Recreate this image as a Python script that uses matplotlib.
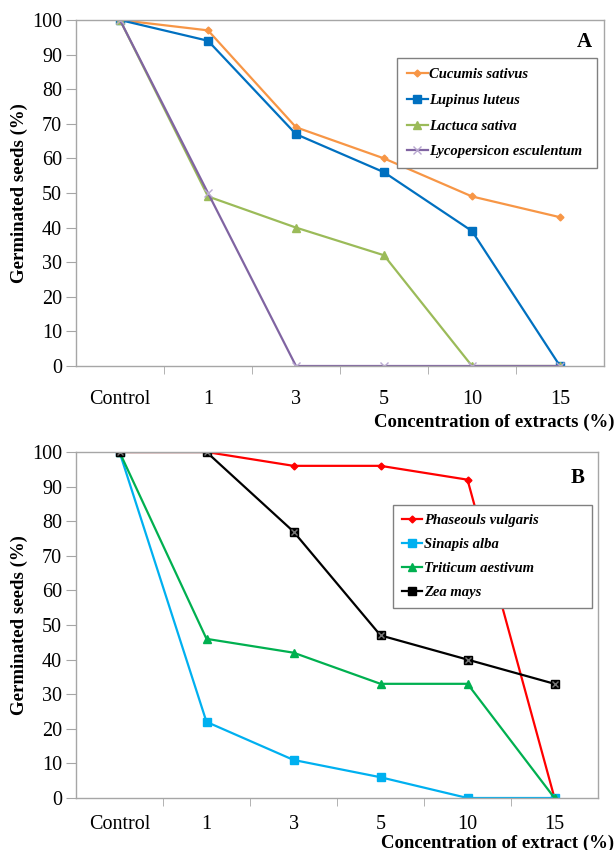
import numpy as np
import matplotlib.pyplot as plt

plt.rcParams['font.family'] = ['Liberation Serif', 'DejaVu Serif']

categories = ["Control", "1", "3", "5", "10", "15"]

# panel A
names_a = ["Cucumis sativus", "Lupinus luteus", "Lactuca sativa", "Lycopersicon esculentum"]
cucumis = [100, 97, 69, 60, 49, 43]
lupinus = [100, 94, 67, 56, 39, 0]
lactuca = [100, 49, 40, 32, 0, 0]
lycopersicon = [100, 50, 0, 0, 0, 0]

# panel B
names_b = ["Phaseouls vulgaris", "Sinapis alba", "Triticum aestivum", "Zea mays"]
phaseolus = [100, 100, 96, 96, 92, 0]
sinapis = [100, 22, 11, 6, 0, 0]
triticum = [100, 46, 42, 33, 33, 0]
zea = [100, 100, 77, 47, 40, 33]

grey = "#A6A6A6"
x = np.arange(len(categories))

fig = plt.figure(figsize=(6.15, 8.5), dpi=100)
axA = fig.add_axes([76/615, 1-366/850, 528/615, 346/850])
axB = fig.add_axes([76/615, 1-798/850, 522/615, 346/850])


def style(ax):
    ax.set_xlim(-0.5, 5.5)
    ax.set_ylim(0, 100)
    ax.set_yticks(range(0, 101, 10))
    ax.set_xticks(x)
    ax.set_xticklabels(categories)
    ax.set_xticks(x[:-1] + 0.5, minor=True)
    ax.tick_params(axis='x', which='major', length=0, labelsize=14.5, pad=17)
    ax.tick_params(axis='x', which='minor', length=6, color=grey, direction='out')
    ax.tick_params(axis='y', length=7, color=grey, labelsize=14.5, pad=3)
    for s in ax.spines.values():
        s.set_color(grey)
        s.set_linewidth(1)
    ax.set_ylabel("Germinated seeds (%)", fontsize=13.5, fontweight='bold', labelpad=3)


def legend(ax, box, pad, spacing):
    leg = ax.legend(loc='upper left', bbox_to_anchor=box, mode='expand', fancybox=False,
                    borderaxespad=0, edgecolor='#808080', framealpha=1, handlelength=1.4,
                    handletextpad=0.1, labelspacing=spacing, borderpad=pad,
                    prop={'style': 'italic', 'weight': 'bold', 'size': 10.5})
    leg.get_frame().set_linewidth(1)
    return leg


lw = 1.6
axA.plot(x, cucumis, color="#F79646", marker='D', ms=3.5, lw=lw, label=names_a[0])
axA.plot(x, lupinus, color="#0070C0", marker='s', ms=6, lw=lw, label=names_a[1])
axA.plot(x, lactuca, color="#9BBB59", marker='^', ms=6, lw=lw, label=names_a[2])
axA.plot(x, lycopersicon, color="#8064A2", marker='x', ms=6, mec="#B9A9D0", lw=lw, label=names_a[3])
style(axA)
axA.text(0.978, 0.965, "A", transform=axA.transAxes, ha='right', va='top', fontsize=15, fontweight='bold')
legend(axA, (321/528, 1-(170-20)/346, 200/528, 112/346), 0.7, 0.85)
fig.text(614/615, 1-422/850, "Concentration of extracts (%)", ha='right', va='center',
         fontsize=13.5, fontweight='bold')

axB.plot(x, phaseolus, color="#FF0000", marker='D', ms=3.5, lw=lw, label=names_b[0])
axB.plot(x, sinapis, color="#00B0F0", marker='s', ms=6, lw=lw, label=names_b[1])
axB.plot(x, triticum, color="#00B050", marker='^', ms=6, lw=lw, label=names_b[2])
axB.plot(x, zea, color="black", marker='s', ms=6, lw=lw, label=names_b[3])
axB.plot(x, zea, color="#777777", marker='x', ms=4, lw=0, mew=1)
style(axB)
axB.tick_params(axis='x', which='major', pad=12)
axB.text(0.975, 0.955, "B", transform=axB.transAxes, ha='right', va='top', fontsize=15, fontweight='bold')
legB = legend(axB, (317/522, 1-(609-452)/346, 199/522, 104/346), 0.6, 0.75)
legB._legend_box.align = 'left'
fig.text(614/615, 1-843/850, "Concentration of extract (%)", ha='right', va='center',
         fontsize=13.5, fontweight='bold')

fig.savefig("out.png", dpi=100)
